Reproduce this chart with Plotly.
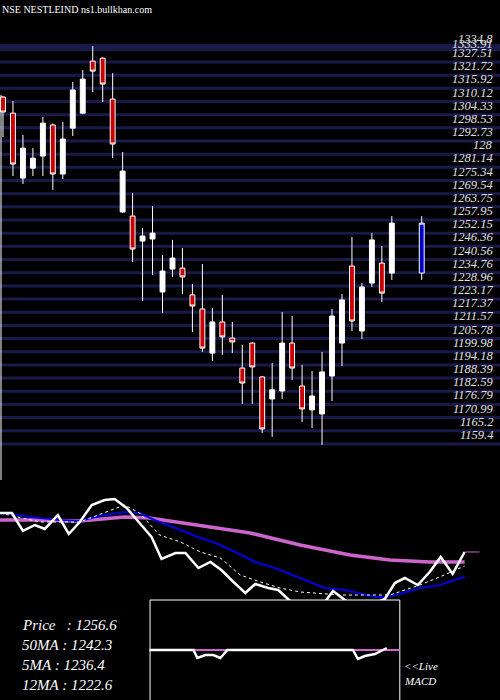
import plotly.graph_objects as go

# ---- candles (index, open, high, low, close)
c_idx = list(range(40))
c_open = [1312.1,1305.0,1276.4,1280.8,1286.1,1299.8,1278.2,1298.4,1305.0,1327.9,1329.2,1311.2,1261.5,1259.7,1248.7,1249.6,1226.3,1236.4,1236.8,1225.0,
          1218.8,1199.4,1213.1,1206.0,1192.8,1203.8,1188.9,1179.2,1182.7,1203.8,1184.9,1174.4,1172.6,1189.3,1203.8,1237.7,1209.1,1230.2,1239.0,1234.6]
c_high = [1312.5,1310.3,1295.4,1289.6,1303.3,1300.5,1301.1,1318.7,1324.0,1334.5,1329.6,1322.6,1287.9,1269.8,1254.4,1264.1,1242.6,1249.2,1245.6,1229.8,
          1238.6,1219.2,1225.0,1213.1,1203.0,1204.2,1189.3,1195.0,1217.5,1215.7,1194.2,1191.5,1199.9,1218.8,1225.4,1250.5,1230.2,1252.2,1246.5,1259.7]
c_low = [1294.5,1277.3,1273.8,1277.3,1277.3,1271.2,1276.0,1294.9,1304.5,1314.3,1309.9,1285.2,1261.0,1239.5,1222.3,1233.8,1217.0,1232.9,1225.4,1208.7,
         1199.9,1195.9,1198.6,1199.4,1177.0,1177.0,1164.2,1162.5,1179.2,1187.6,1169.1,1166.4,1159.0,1178.3,1193.7,1209.1,1205.6,1228.5,1221.9,1231.6]
c_close = [1305.5,1282.6,1289.6,1285.2,1300.6,1278.2,1293.6,1315.2,1320.0,1323.5,1317.8,1291.4,1279.5,1245.2,1250.9,1252.2,1235.5,1241.2,1232.9,1220.1,
           1201.6,1213.1,1206.5,1204.3,1186.2,1193.3,1166.0,1183.2,1203.8,1192.8,1174.8,1180.5,1191.1,1215.7,1222.8,1213.5,1228.5,1249.2,1225.8,1256.6]
last_idx = [42]; last_open = [1234.6]; last_high = [1259.7]; last_low = [1231.6]; last_close = [1256.6]

grid_vals = [1327.51,1321.72,1315.92,1310.12,1304.33,1298.53,1292.73,1286.94,1281.14,1275.34,1269.54,1263.75,1257.95,1252.15,
             1246.36,1240.56,1234.76,1228.96,1223.17,1217.37,1211.57,1205.78,1199.98,1194.18,1188.39,1182.59,1176.79,1170.99,1165.2,1159.4]
grid_labels = ["1327.51","1321.72","1315.92","1310.12","1304.33","1298.53","1292.73","128","1281.14","1275.34","1269.54","1263.75","1257.95","1252.15",
               "1246.36","1240.56","1234.76","1228.96","1223.17","1217.37","1211.57","1205.78","1199.98","1194.18","1188.39","1182.59","1176.79","1170.99","1165.2","1159.4"]
top_val = 1333.91

# ---- moving average panel
p_x = [-0.3,0.9,2.0,3.2,4.2,5.5,6.6,7.7,8.9,10.2,11.2,12.4,13.7,14.9,15.9,17.3,18.3,19.6,20.8,21.9,23.0,24.3,25.3,26.6,27.6,28.8,29.8,31.3,33.1,34.3,35.8,38.3,39.3,40.3,41.6,42.8,43.9,45.1,46.3]
p_y = [1309.6,1309.6,1285.2,1293.3,1287.9,1306.9,1281.1,1297.4,1320.5,1327.3,1328.7,1316.4,1296.0,1277.0,1247.1,1255.2,1255.2,1234.8,1243.0,1232.1,1217.2,1200.8,1213.1,1207.6,1204.9,1190.0,1180.4,1170.9,1203.6,1191.3,1177.7,1192.7,1214.4,1221.2,1211.7,1229.4,1249.8,1226.7,1256.6]
m50_x = [-0.3,3.7,7.7,12.2,14.7,19.8,24.8,29.8,34.8,38.8,42.8,46.3]
m50_y = [1300.1,1300.1,1298.8,1304.2,1302.8,1292.0,1282.4,1266.1,1252.5,1245.7,1243.0,1243.0]
m12_x = [-0.3,1.2,3.7,5.7,7.7,9.7,12.2,13.7,15.2,17.3,19.3,21.3,23.3,25.3,27.3,29.8,32.3,34.3,37.3,38.3,39.8,41.8,43.8,45.3,46.3]
m12_y = [1309.6,1306.9,1302.8,1300.1,1298.8,1305.6,1311.0,1309.6,1300.1,1289.2,1278.4,1268.8,1256.6,1243.0,1234.8,1221.2,1207.6,1204.9,1195.4,1195.4,1199.5,1207.6,1211.7,1218.5,1222.6]
m5_x = [-0.3,3.7,7.7,12.2,13.7,15.7,17.8,19.8,21.8,23.8,25.8,27.8,29.8,33.8,38.8,41.8,43.8,46.3]
m5_y = [1309.6,1297.4,1297.4,1320.5,1309.6,1279.7,1270.2,1256.6,1248.4,1225.3,1215.8,1207.6,1202.2,1198.1,1198.1,1211.7,1222.6,1237.6]

macd_x = [14.7,19.1,19.5,20.3,21.1,21.8,22.5,35.1,35.6,36.3,37.3,38.5]
macd_y = [0,0,-8,-5,-5,-8,0,0,-9,-6,-4,2]
sig_x = [14.7,39.8]
sig_y = [0,0]

legend_lines = ["Price   : 1256.6","50MA : 1242.3","5MA : 1236.4","12MA : 1222.6"]

serif = dict(family="Liberation Serif", color="white", style="italic")
lab = dict(family="Liberation Serif", color="#e0e0e0", style="italic", size=12.5)

fig = go.Figure()
fig.add_trace(go.Candlestick(x=c_idx, open=c_open, high=c_high, low=c_low, close=c_close,
    increasing=dict(fillcolor="white", line=dict(color="white", width=1)),
    decreasing=dict(fillcolor="#cc0000", line=dict(color="white", width=1)),
    whiskerwidth=0, showlegend=False, hoverinfo="skip"))
fig.add_trace(go.Candlestick(x=last_idx, open=last_open, high=last_high, low=last_low, close=last_close,
    increasing=dict(fillcolor="#0000cc", line=dict(color="white", width=1)),
    decreasing=dict(fillcolor="#0000cc", line=dict(color="white", width=1)),
    whiskerwidth=0, showlegend=False, hoverinfo="skip"))

fig.add_trace(go.Scatter(x=m50_x, y=m50_y, yaxis="y2", mode="lines", line=dict(color="#cc66cc", width=3.5), showlegend=False))
fig.add_trace(go.Scatter(x=m12_x, y=m12_y, yaxis="y2", mode="lines", line=dict(color="#0000dd", width=2), showlegend=False))
fig.add_trace(go.Scatter(x=m5_x, y=m5_y, yaxis="y2", mode="lines", line=dict(color="white", width=1, dash="dot"), showlegend=False))
fig.add_trace(go.Scatter(x=p_x, y=p_y, yaxis="y2", mode="lines", line=dict(color="white", width=2.5), showlegend=False))
fig.add_trace(go.Scatter(x=[46.3, 47.8], y=[1256.6, 1256.6], yaxis="y2", mode="lines", line=dict(color="#cc66cc", width=1), showlegend=False))

# MACD box
fig.add_trace(go.Scatter(x=[14.75,39.8,39.8,14.75,14.75], y=[50,50,-60,-60,50], yaxis="y3", mode="lines",
    fill="toself", fillcolor="black", line=dict(color="white", width=1), showlegend=False))
fig.add_trace(go.Scatter(x=sig_x, y=sig_y, yaxis="y3", mode="lines", line=dict(color="#cc66cc", width=2), showlegend=False))
fig.add_trace(go.Scatter(x=macd_x, y=macd_y, yaxis="y3", mode="lines", line=dict(color="white", width=2.5), showlegend=False))

shapes = []
for v in grid_vals:
    shapes.append(dict(type="line", xref="paper", yref="y", x0=0, x1=1, y0=v, y1=v, line=dict(color="#1a1a4a", width=3), layer="below"))
shapes.append(dict(type="line", xref="paper", yref="y", x0=0, x1=1, y0=top_val, y1=top_val, line=dict(color="#1a1a4a", width=7), layer="below"))
shapes.append(dict(type="line", xref="paper", yref="paper", x0=0.002, x1=0.002, y0=1-480/700, y1=1-95/700, line=dict(color="white", width=1), layer="below"))

ann = []
for v, t in zip(grid_vals, grid_labels):
    ann.append(dict(xref="paper", yref="y", x=0.99, y=v, text=t, showarrow=False, xanchor="right", yanchor="bottom", font=lab))
ann.append(dict(xref="paper", yref="y", x=0.99, y=top_val, text="1334.8", showarrow=False, xanchor="right", yanchor="bottom", yshift=-1, font=lab))
ann.append(dict(xref="paper", yref="y", x=0.99, y=top_val, text="1333.91", showarrow=False, xanchor="right", yanchor="middle", yshift=3, font=lab))
ann.append(dict(xref="paper", yref="paper", x=0.0, y=1-10/700, text="NSE NESTLEIND ns1.bullkhan.com", showarrow=False,
                xanchor="left", yanchor="middle", font=dict(size=10, family="Liberation Serif", color="white")))
for i, t in enumerate(legend_lines):
    ann.append(dict(xref="paper", yref="paper", x=20/500, y=1-(625+20*i)/700, text=t, showarrow=False,
                    xanchor="left", yanchor="middle", font=dict(size=15, **serif)))
ann.append(dict(xref="paper", yref="paper", x=402/500, y=1-666/700, text="<<Live", showarrow=False, xanchor="left", yanchor="middle", font=dict(size=11, **serif)))
ann.append(dict(xref="paper", yref="paper", x=402/500, y=1-681/700, text="MACD", showarrow=False, xanchor="left", yanchor="middle", font=dict(size=11, **serif)))

fig.update_layout(
    width=500, height=700, margin=dict(l=0, r=0, t=0, b=0),
    paper_bgcolor="black", plot_bgcolor="black",
    xaxis=dict(range=[-0.3, 49.85], visible=False, rangeslider=dict(visible=False), fixedrange=True),
    yaxis=dict(range=[1046.7, 1354.8], visible=False),
    yaxis2=dict(range=[1055.3, 2007.3], overlaying="y", visible=False),
    yaxis3=dict(range=[-50, 650], overlaying="y", visible=False),
    shapes=shapes, annotations=ann,
)
fig.write_html("out.html", config={"displayModeBar": False, "staticPlot": True})
with open("out.html", encoding="utf-8") as f:
    html = f.read()
html = html.replace("<head>", "<head><style>html,body{margin:0;padding:0;background:black;overflow:hidden}</style>", 1)
with open("out.html", "w", encoding="utf-8") as f:
    f.write(html)
